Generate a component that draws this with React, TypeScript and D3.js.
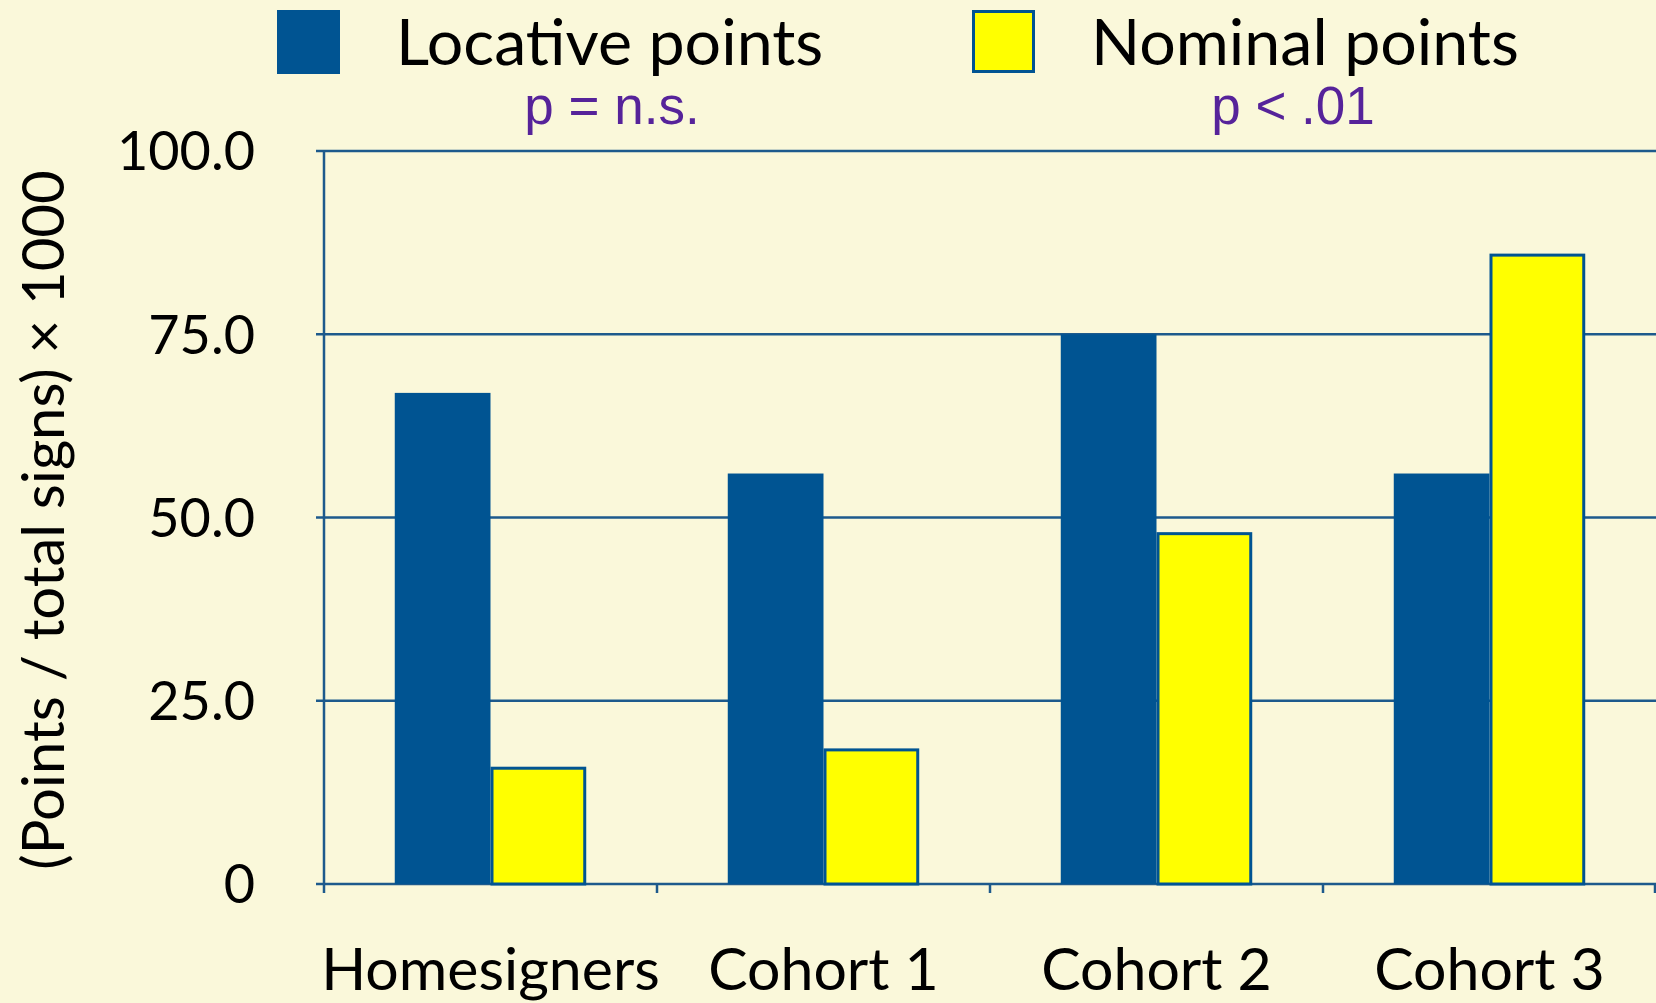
import { useRef, useEffect } from 'react';
import * as d3 from 'd3';

const categories = ['Homesigners', 'Cohort 1', 'Cohort 2', 'Cohort 3'];
const seriesNames = ['Locative points', 'Nominal points'];
const locative = [67, 56, 75, 56];
const nominal = [16, 18.5, 48, 86];
const yTicks = [0, 25, 50, 75, 100];
const pLabels = ['p = n.s.', 'p < .01'];

const W = 1656;
const H = 1003;
const BG = '#faf8da';
const BLUE = '#005492';
const YELLOW = '#ffff00';
const GRID = '#1d5a8c';
const FONT = 'Lato, "Open Sans", sans-serif';

const App = () => {
  const svgRef = useRef<SVGSVGElement>(null);

  useEffect(() => {
    const svg = d3.select(svgRef.current);
    svg.selectAll('*').remove();

    const margin = { top: 151, right: 0, bottom: 119, left: 324 };

    svg.append('rect').attr('width', W).attr('height', H).attr('fill', BG);

    const x = d3.scaleBand<string>()
      .domain(categories)
      .range([margin.left, W - margin.right])
      .paddingInner(0)
      .paddingOuter(0);

    const inner = d3.scaleBand<string>()
      .domain(seriesNames)
      .range([0, x.bandwidth() * 0.575]);
    const offset = (x.bandwidth() - x.bandwidth() * 0.575) / 2;

    const y = d3.scaleLinear()
      .domain([0, 100])
      .range([H - margin.bottom, margin.top]);

    // gridlines
    svg.append('g')
      .selectAll('line')
      .data(yTicks)
      .join('line')
      .attr('x1', margin.left - 8)
      .attr('x2', W)
      .attr('y1', d => y(d))
      .attr('y2', d => y(d))
      .attr('stroke', GRID)
      .attr('stroke-width', 2.5);

    // y axis line
    svg.append('line')
      .attr('x1', margin.left).attr('x2', margin.left)
      .attr('y1', y(100)).attr('y2', y(0) + 9)
      .attr('stroke', GRID).attr('stroke-width', 2.5);

    // x ticks at band boundaries
    const bounds = categories.map(c => x(c) as number).concat([W - 1]);
    svg.append('g')
      .selectAll('line')
      .data(bounds.slice(1))
      .join('line')
      .attr('x1', d => d).attr('x2', d => d)
      .attr('y1', y(0)).attr('y2', y(0) + 9)
      .attr('stroke', GRID).attr('stroke-width', 2.5);

    // y tick labels
    svg.append('g')
      .selectAll('text')
      .data(yTicks)
      .join('text')
      .attr('x', 255)
      .attr('y', d => y(d))
      .attr('dy', '0.36em')
      .attr('text-anchor', 'end')
      .attr('font-family', FONT)
      .attr('font-size', 54)
      .attr('fill', '#000')
      .text(d => (d === 0 ? '0' : d.toFixed(1)));

    // bars
    const groups = svg.append('g')
      .selectAll('g')
      .data(categories)
      .join('g')
      .attr('transform', c => `translate(${(x(c) as number) + offset},0)`);

    groups.append('rect')
      .attr('x', inner('Locative points') as number)
      .attr('width', inner.bandwidth())
      .attr('y', (_, i) => y(locative[i]))
      .attr('height', (_, i) => y(0) - y(locative[i]))
      .attr('fill', BLUE);

    groups.append('rect')
      .attr('x', (inner('Nominal points') as number) + 1.5)
      .attr('width', inner.bandwidth() - 3)
      .attr('y', (_, i) => y(nominal[i]) + 1.5)
      .attr('height', (_, i) => y(0) - y(nominal[i]) - 1.5)
      .attr('fill', YELLOW)
      .attr('stroke', BLUE)
      .attr('stroke-width', 3);

    // category labels
    svg.append('g')
      .selectAll('text')
      .data(categories)
      .join('text')
      .attr('x', c => (x(c) as number) + x.bandwidth() / 2)
      .attr('y', 990)
      .attr('text-anchor', 'middle')
      .attr('font-family', FONT)
      .attr('font-size', 59)
      .attr('fill', '#000')
      .text(c => c);

    // y axis title
    svg.append('text')
      .attr('transform', `translate(64,${520}) rotate(-90)`)
      .attr('text-anchor', 'middle')
      .attr('font-family', FONT)
      .attr('font-size', 58)
      .attr('fill', '#000')
      .text('(Points / total signs) \u00d7 1000');

    // legend
    const legendX = [277, 972];
    const legendTextX = [396, 1091];
    seriesNames.forEach((name, i) => {
      if (i === 0) {
        svg.append('rect')
          .attr('x', legendX[i]).attr('y', 10)
          .attr('width', 63).attr('height', 64)
          .attr('fill', BLUE);
      } else {
        svg.append('rect')
          .attr('x', legendX[i] + 1.5).attr('y', 11.5)
          .attr('width', 60).attr('height', 60)
          .attr('fill', YELLOW)
          .attr('stroke', BLUE).attr('stroke-width', 3);
      }
      svg.append('text')
        .attr('x', legendTextX[i])
        .attr('y', 65)
        .attr('font-family', FONT)
        .attr('font-size', 64.5)
        .attr('fill', '#000')
        .text(name);
    });

    // p-values
    const pX = [612, 1293];
    svg.append('g')
      .selectAll('text')
      .data(pLabels)
      .join('text')
      .attr('x', (_, i) => pX[i])
      .attr('y', 124)
      .attr('text-anchor', 'middle')
      .attr('font-family', '"Liberation Sans", Arial, sans-serif')
      .attr('font-size', 53)
      .attr('fill', '#56239a')
      .text(d => d);
  }, []);

  return (
    <svg
      ref={svgRef}
      width={W}
      height={H}
      style={{ position: 'absolute', left: 0, top: 0, display: 'block' }}
    />
  );
};

export default App;
